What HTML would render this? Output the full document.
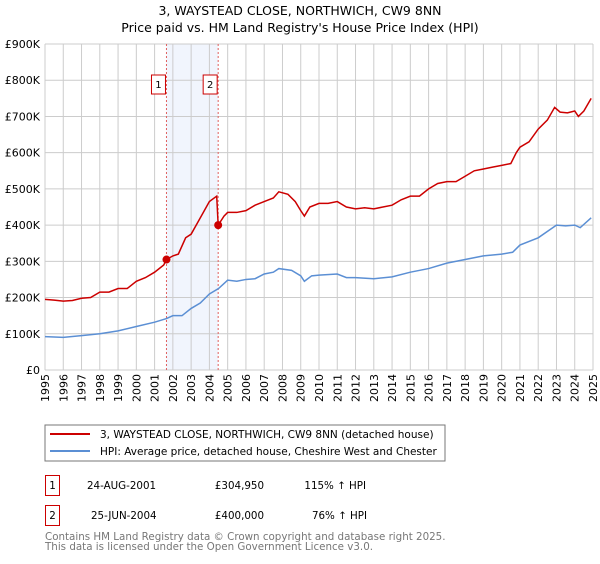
<!DOCTYPE html>
<html><head><meta charset="utf-8"><style>
body{margin:0;background:#fff;width:600px;height:560px;overflow:hidden;font-family:"DejaVu Sans","Liberation Sans",sans-serif}
svg text{font-family:"DejaVu Sans","Liberation Sans",sans-serif}
</style></head><body>
<svg id="c" width="600" height="560" xmlns="http://www.w3.org/2000/svg">
<text x="300" y="15" font-size="12.5" text-anchor="middle">3, WAYSTEAD CLOSE, NORTHWICH, CW9 8NN</text>
<text x="300" y="32" font-size="12.5" text-anchor="middle">Price paid vs. HM Land Registry's House Price Index (HPI)</text>
<g id="plot"></g>
<rect x="45" y="425" width="400" height="36" fill="none" stroke="#777"/>
<line x1="50" y1="434" x2="90" y2="434" stroke="#cc0000" stroke-width="2"/>
<text x="100" y="438" font-size="10.5">3, WAYSTEAD CLOSE, NORTHWICH, CW9 8NN (detached house)</text>
<line x1="50" y1="451" x2="90" y2="451" stroke="#5b8fd4" stroke-width="2"/>
<text x="100" y="455" font-size="10.5">HPI: Average price, detached house, Cheshire West and Chester</text>
<g font-size="10.3">
<rect x="45.5" y="475.5" width="14" height="20" fill="none" stroke="#cc0000"/>
<text x="52.5" y="489" text-anchor="middle">1</text>
<text x="87" y="489">24-AUG-2001</text>
<text x="264" y="489" text-anchor="end">£304,950</text>
<text x="366" y="489" text-anchor="end">115% ↑ HPI</text>
<rect x="45.5" y="505.5" width="14" height="20" fill="none" stroke="#cc0000"/>
<text x="52.5" y="519" text-anchor="middle">2</text>
<text x="91" y="519">25-JUN-2004</text>
<text x="264" y="519" text-anchor="end">£400,000</text>
<text x="367" y="519" text-anchor="end">76% ↑ HPI</text>
</g>
<text x="45" y="540" font-size="10.3" fill="#777">Contains HM Land Registry data © Crown copyright and database right 2025.</text>
<text x="45" y="550" font-size="10.3" fill="#777">This data is licensed under the Open Government Licence v3.0.</text>
</svg>
<script>
const yearTicks=[1995,1996,1997,1998,1999,2000,2001,2002,2003,2004,2005,2006,2007,2008,2009,2010,2011,2012,2013,2014,2015,2016,2017,2018,2019,2020,2021,2022,2023,2024,2025];
const priceTicks=[0,100,200,300,400,500,600,700,800,900];
const priceLabels=["£0","£100K","£200K","£300K","£400K","£500K","£600K","£700K","£800K","£900K"];
const redT=[1995,1995.5,1996,1996.5,1997,1997.5,1998,1998.5,1999,1999.5,2000,2000.5,2001,2001.5,2001.65,2002,2002.3,2002.7,2003,2003.5,2004,2004.4,2004.48,2004.8,2005,2005.5,2006,2006.5,2007,2007.5,2007.8,2008.3,2008.7,2009,2009.2,2009.5,2010,2010.5,2011,2011.5,2012,2012.5,2013,2013.5,2014,2014.5,2015,2015.5,2016,2016.5,2017,2017.5,2018,2018.5,2019,2019.5,2020,2020.5,2020.8,2021,2021.5,2022,2022.5,2022.9,2023.2,2023.6,2024,2024.2,2024.5,2024.9];
const redV=[195,193,190,192,198,200,215,215,225,225,245,255,270,290,305,315,320,365,375,420,465,480,400,425,435,435,440,455,465,475,492,485,465,440,425,450,460,460,465,450,445,448,445,450,455,470,480,480,500,515,520,520,535,550,555,560,565,570,600,615,630,665,690,725,712,710,715,700,715,750];
const blueT=[1995,1996,1997,1998,1999,2000,2001,2001.65,2002,2002.5,2003,2003.5,2004,2004.5,2005,2005.5,2006,2006.5,2007,2007.5,2007.8,2008.5,2009,2009.2,2009.6,2010,2011,2011.5,2012,2013,2014,2015,2016,2017,2018,2019,2020,2020.6,2021,2022,2023,2023.5,2024,2024.3,2024.9];
const blueV=[92,90,95,100,108,120,132,142,150,150,170,185,210,225,248,245,250,252,265,270,280,275,260,245,260,262,265,255,255,252,257,270,280,295,305,315,320,325,345,365,400,398,400,393,420];
const saleT=[2001.65,2004.48];
const saleV=[304.95,400];
const saleLabels=["1","2"];
const X=t=>45+(t-1995)*(548/30), Y=v=>370-v*(326/900);
const NS="http://www.w3.org/2000/svg", g=document.getElementById('plot');
function mk(tag,a){const e=document.createElementNS(NS,tag);for(const k in a)e.setAttribute(k,a[k]);g.appendChild(e);return e;}
let band=mk('rect',{x:X(saleT[0]),y:44,width:X(saleT[1])-X(saleT[0]),height:326,fill:'#eef3fc',opacity:0.8});


yearTicks.forEach(y=>{
 let l=mk('line',{x1:X(y),x2:X(y),y1:44,y2:370,stroke:'#ccc'});
 
 
 let t=mk('text',{x:0,y:0,'font-size':11,'text-anchor':'end',transform:`translate(${X(y)+4},374) rotate(-90)`});
 t.textContent=y;
 
 
});
priceTicks.forEach((p,i)=>{
 let l=mk('line',{x1:45,x2:593,y1:Y(p),y2:Y(p),stroke:'#ccc'});
 
 
 let t=mk('text',{x:40,y:Y(p)+4,'font-size':11,'text-anchor':'end'});
 t.textContent=priceLabels[i];
 
 
});
saleT.forEach((s,i)=>{
 let l=mk('line',{x1:X(s),x2:X(s),y1:44,y2:370,stroke:'#e06060','stroke-dasharray':'2,2'});
 
 
 let r=mk('rect',{x:X(s)-15,y:75,width:14,height:19,fill:'#fff',stroke:'#cc0000'});
 
 
 let t=mk('text',{x:X(s)-8,y:88,'font-size':10,'text-anchor':'middle'});
 t.textContent=saleLabels[i];
 
 
});
let bp=mk('polyline',{points:blueT.map((t,i)=>X(t)+','+Y(blueV[i])).join(' '),fill:'none',stroke:'#5b8fd4','stroke-width':1.5});


let rp=mk('polyline',{points:redT.map((t,i)=>X(t)+','+Y(redV[i])).join(' '),fill:'none',stroke:'#cc0000','stroke-width':1.5});


saleT.forEach((s,i)=>{
 let c=mk('circle',{cx:X(s),cy:Y(saleV[i]),r:4,fill:'#cc0000'});
 
 
});
</script>
</body></html>
